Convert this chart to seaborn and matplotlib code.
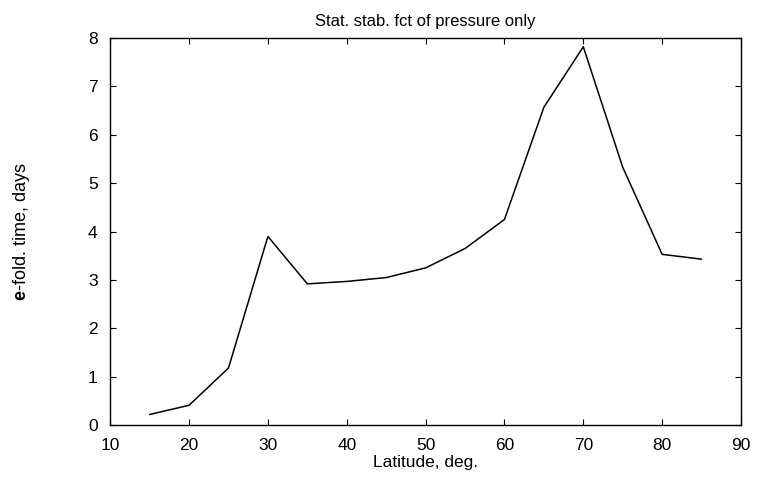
import matplotlib
matplotlib.use('Agg')
import matplotlib.pyplot as plt
import seaborn as sns
import pandas as pd

latitude = [15, 20, 25, 30, 35, 40, 45, 50, 55, 60, 65, 70, 75, 80, 85]
efold_days = [0.22, 0.41, 1.18, 3.9, 2.92, 2.97, 3.05, 3.25, 3.65, 4.25, 6.57, 7.82, 5.33, 3.53, 3.43]
x_ticks = [10, 20, 30, 40, 50, 60, 70, 80, 90]
y_ticks = [0, 1, 2, 3, 4, 5, 6, 7, 8]

sns.set_style('white')
plt.rcParams['font.family'] = ['Liberation Sans', 'DejaVu Sans']
plt.rcParams['mathtext.fontset'] = 'custom'
plt.rcParams['mathtext.bf'] = 'Liberation Sans:bold'
plt.rcParams['mathtext.rm'] = 'Liberation Sans'
plt.rcParams['text.color'] = 'black'
plt.rcParams['axes.labelcolor'] = 'black'

df = pd.DataFrame({'lat': latitude, 'tau': efold_days})

fig = plt.figure(figsize=(7.6, 4.82), dpi=100)
ax = fig.add_axes([0.145, 0.118, 0.83, 0.803])
sns.lineplot(data=df, x='lat', y='tau', color='black', linewidth=1.1, ax=ax)

ax.set_xlim(10, 90)
ax.set_ylim(0, 8)
ax.set_xticks(x_ticks)
ax.set_yticks(y_ticks)
ax.tick_params(direction='in', length=4, width=0.8, labelsize=12.5, pad=9,
               colors='black', bottom=True, left=True, top=True, right=True)
for sp in ax.spines.values():
    sp.set_color('black')
    sp.set_linewidth(1.0)

ax.set_title('Stat. stab. fct of pressure only', fontsize=12, pad=9, color='black')
ax.set_xlabel('Latitude, deg.', fontsize=12.5, labelpad=2, color='black')
ax.set_ylabel(r'$\mathbf{e}$-fold. time, days', fontsize=13, labelpad=40, color='black')

fig.savefig('out.png', dpi=100)
